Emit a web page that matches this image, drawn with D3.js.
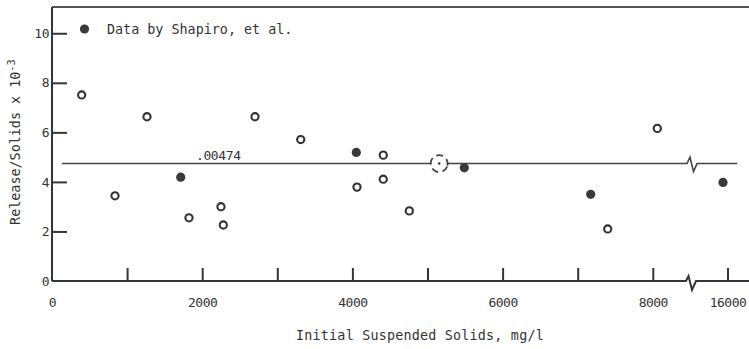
<!DOCTYPE html>
<html>
<head>
<meta charset="utf-8">
<script src="https://cdn.jsdelivr.net/npm/d3@7"></script>
<style>
  html, body { margin: 0; padding: 0; background: #fff; }
  svg { display: block; }
  text { font-family: "DejaVu Sans Mono", monospace; fill: #333; }
</style>
</head>
<body>
<svg id="chart" width="749" height="349"></svg>
<script>
// ---- data (Release/Solids x 10^-3 vs Initial Suspended Solids, mg/l) ----
const openX = [395, 839, 1265, 1824, 2250, 2281, 2703, 3312, 4061, 4411, 4411, 4758, 7400, 8060];
const openY = [7.51, 3.44, 6.63, 2.55, 3.00, 2.26, 6.63, 5.71, 3.79, 5.08, 4.11, 2.83, 2.10, 6.16];
const shapiroX = [1714, 4052, 5490, 7173, 15940];
const shapiroY = [4.19, 5.19, 4.57, 3.50, 3.98];
const meanValue = 4.74;          // .00474
const meanLabel = ".00474";
const meanPointX = 5156;         // dashed circled point on the mean line
const meanLineX = [130, 16130];
const breakValue = 8522;         // axis break between 8000 and 16000
const xTickValues = [1000, 2000, 3000, 4000, 5000, 6000, 7000, 8000, 16000];
const xLabelValues = [0, 2000, 4000, 6000, 8000, 16000];
const yTickValues = [2, 4, 6, 8, 10];
const yLabelValues = [0, 2, 4, 6, 8, 10];
const legendLabel = "Data by Shapiro, et al.";
const xTitle = "Initial Suspended Solids, mg/l";
const yTitle = "Release/Solids x 10";
const yTitleSup = "-3";

// ---- scales ----
const svg = d3.select("#chart");
const ink = "#353535";
const x = d3.scaleLinear()
  .domain([0, breakValue, 15527, 16300])
  .range([52, 692, 692, 750]);
const y = d3.scaleLinear().domain([0, 11.06]).range([281, 7]);
const x0 = x(0), yb = y(0), yt = y(11.06);
const bx = x(breakValue);

// frame: top line and left axis
svg.append("line").attr("x1", x0).attr("x2", 749).attr("y1", yt).attr("y2", yt)
  .attr("stroke", "#555").attr("stroke-width", 2);
svg.append("line").attr("x1", x0).attr("x2", x0).attr("y1", yt).attr("y2", yb)
  .attr("stroke", ink).attr("stroke-width", 2);

// bottom axis line with break zigzag
svg.append("path")
  .attr("d", `M${x0},${yb}H${bx - 6}L${bx - 3.5},${yb - 5}L${bx},${yb + 9}L${bx + 4},${yb}H749`)
  .attr("fill", "none").attr("stroke", ink).attr("stroke-width", 2);

// x ticks (inward) and labels
const gxt = svg.append("g").attr("transform", `translate(0,${yb})`)
  .call(d3.axisBottom(x).tickValues(xTickValues).tickSize(-13).tickFormat(""));
gxt.select(".domain").remove();
gxt.selectAll(".tick line").attr("stroke", ink).attr("stroke-width", 2);

const gxl = svg.append("g").attr("transform", `translate(0,${yb})`)
  .call(d3.axisBottom(x).tickValues(xLabelValues).tickSize(0).tickPadding(16.5).tickFormat(d3.format("d")));
gxl.select(".domain").remove();
gxl.selectAll("text").attr("font-size", 13).attr("font-family", "DejaVu Sans Mono").attr("fill", "#333")
  .attr("letter-spacing", -0.5);

// y ticks (inward) and labels
const gyt = svg.append("g").attr("transform", `translate(${x0},0)`)
  .call(d3.axisLeft(y).tickValues(yTickValues).tickSize(-15).tickFormat(""));
gyt.select(".domain").remove();
gyt.selectAll(".tick line").attr("stroke", ink).attr("stroke-width", 2);

const gyl = svg.append("g").attr("transform", `translate(${x0},0)`)
  .call(d3.axisLeft(y).tickValues(yLabelValues).tickSize(0).tickPadding(3).tickFormat(d3.format("d")));
gyl.select(".domain").remove();
gyl.selectAll("text").attr("font-size", 13).attr("font-family", "DejaVu Sans Mono").attr("fill", "#333")
  .attr("letter-spacing", -0.5);

// mean reference line with break zigzag
const my = y(meanValue);
const lx0 = x(meanLineX[0]), lx1 = x(meanLineX[1]);
svg.append("path")
  .attr("d", `M${lx0},${my}H${bx - 5}L${bx - 2},${my - 6.5}L${bx + 1.5},${my + 8}L${bx + 5},${my}H${lx1}`)
  .attr("fill", "none").attr("stroke", "#444").attr("stroke-width", 1.6);
svg.append("text").attr("x", 196).attr("y", my - 4).attr("font-size", 13)
  .attr("letter-spacing", -0.4).text(meanLabel);

// dashed circled mean point
svg.append("circle").attr("cx", x(meanPointX)).attr("cy", my).attr("r", 8.5)
  .attr("fill", "#fff").attr("stroke", "#444").attr("stroke-width", 1.8)
  .attr("stroke-dasharray", "7,4.3").attr("transform", `rotate(20,${x(meanPointX)},${my})`);
svg.append("circle").attr("cx", x(meanPointX)).attr("cy", my).attr("r", 1.3).attr("fill", "#333");

// open circles
svg.append("g").selectAll("circle").data(openX.map((d, i) => [d, openY[i]])).join("circle")
  .attr("cx", d => x(d[0])).attr("cy", d => y(d[1])).attr("r", 3.6)
  .attr("fill", "#fff").attr("stroke", "#333").attr("stroke-width", 2.1);

// filled circles (Shapiro)
svg.append("g").selectAll("circle").data(shapiroX.map((d, i) => [d, shapiroY[i]])).join("circle")
  .attr("cx", d => x(d[0])).attr("cy", d => y(d[1])).attr("r", 4.6)
  .attr("fill", "#3a3a3a");

// legend
svg.append("circle").attr("cx", 84.5).attr("cy", 29).attr("r", 4.6).attr("fill", "#3a3a3a");
svg.append("text").attr("x", 107).attr("y", 33.5).attr("font-size", 13.4).text(legendLabel);

// axis titles
svg.append("text").attr("x", 420).attr("y", 340).attr("text-anchor", "middle")
  .attr("font-size", 13.4).attr("letter-spacing", 0.2).text(xTitle);
const yt2 = svg.append("text").attr("transform", "translate(20,142) rotate(-90)")
  .attr("text-anchor", "middle").attr("font-size", 13.4);
yt2.append("tspan").text(yTitle);
yt2.append("tspan").attr("dy", -5).attr("font-size", 10.5).text(yTitleSup);
</script>
</body>
</html>
